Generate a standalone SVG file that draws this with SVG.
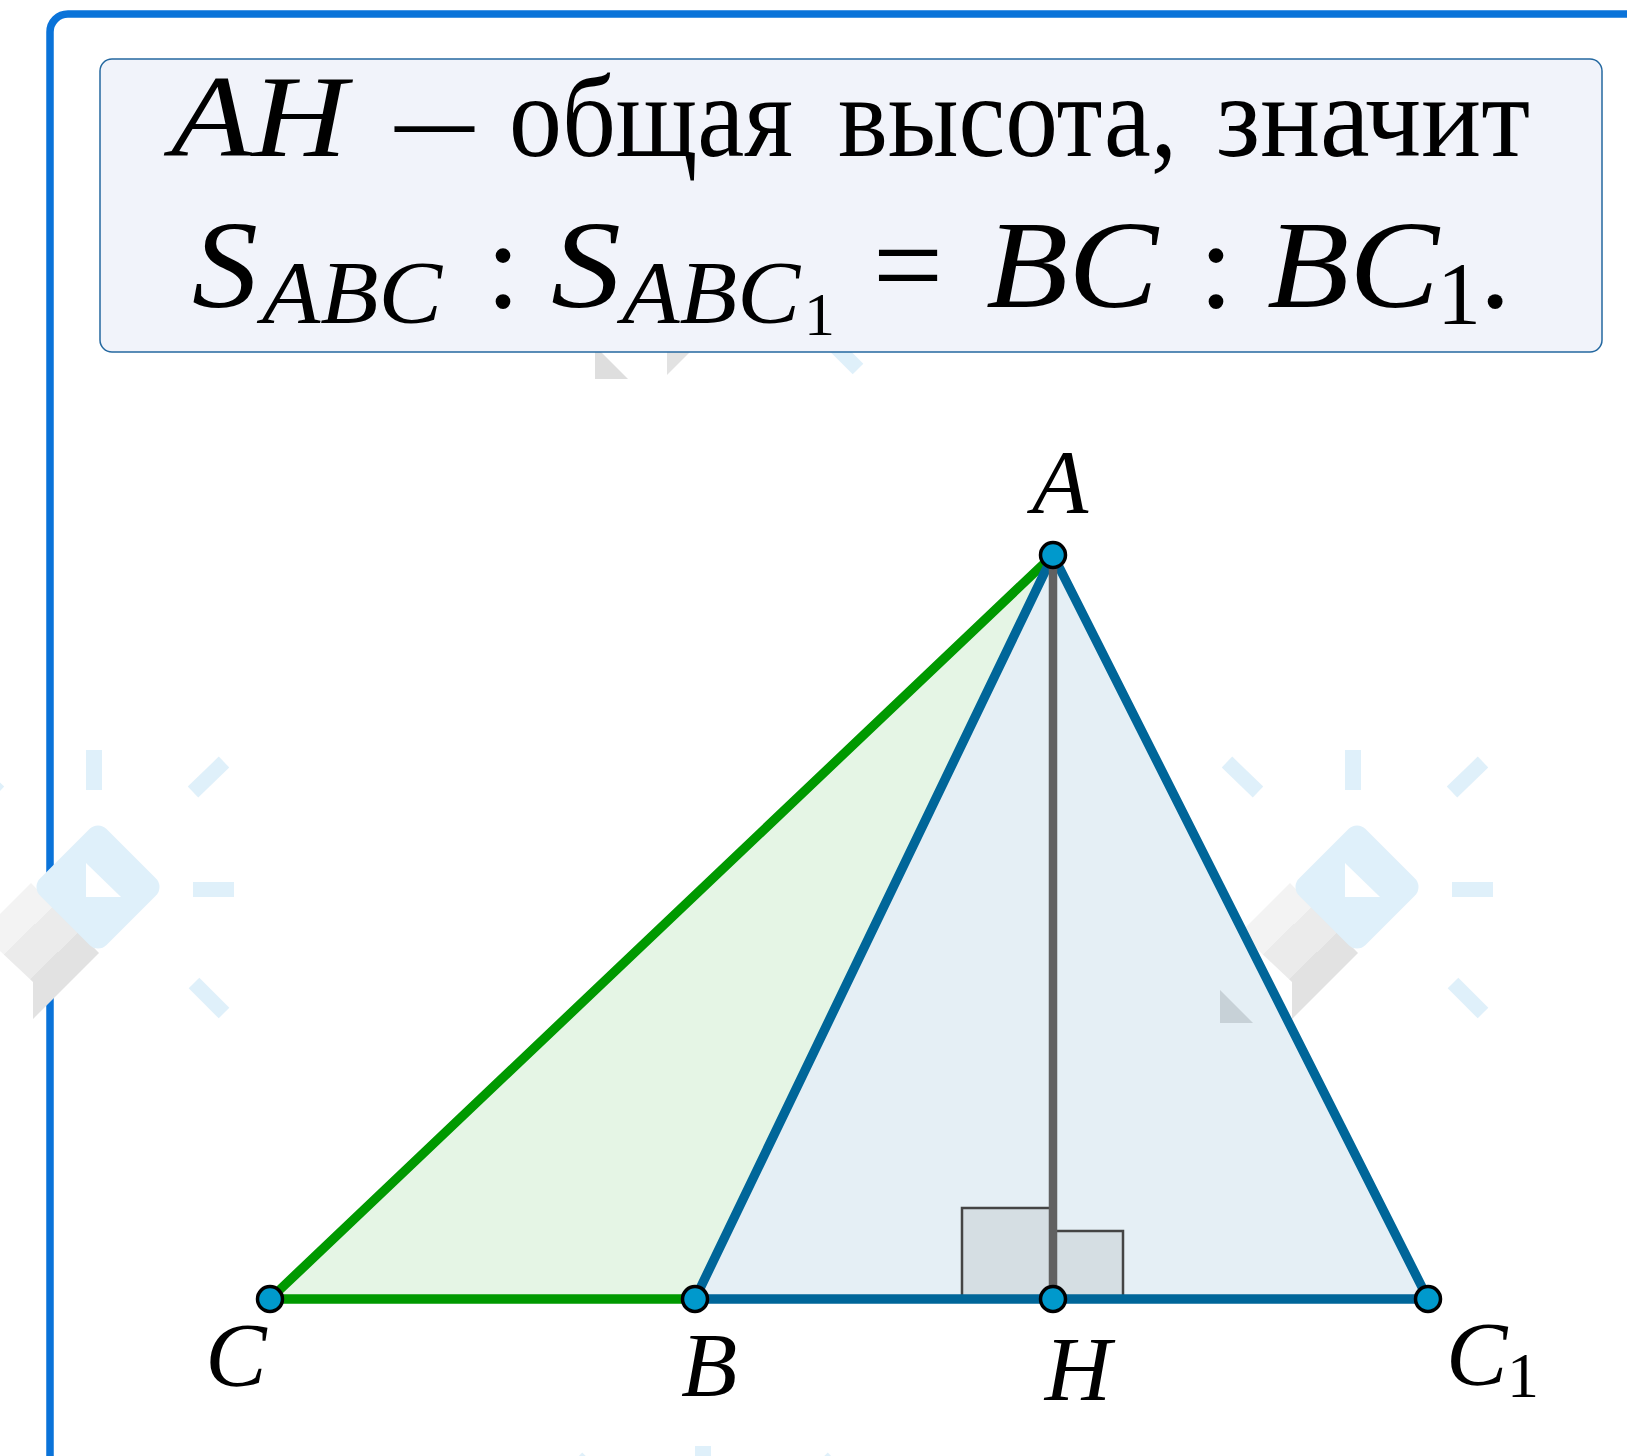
<svg xmlns="http://www.w3.org/2000/svg" width="1627" height="1456" viewBox="0 0 1627 1456">
<defs>
<style>
.it{font-family:"Liberation Serif","Times New Roman",serif;font-style:italic;fill:#000}
.rm{font-family:"Liberation Serif","Times New Roman",serif;fill:#000}
.pt{fill:#0099CC;stroke:#000;stroke-width:3.5}
.ray{stroke:#DFF0FA;stroke-width:15;fill:none}
.lbl{font-size:92px}
.blue{stroke:#006699;stroke-width:9.3;stroke-linecap:round;fill:none}
.green{stroke:#009900;stroke-width:9.3;stroke-linecap:round;fill:none}
.ra{fill:#666666;fill-opacity:0.12;stroke:#444444;stroke-width:2.5}
</style>
<linearGradient id="bandg" gradientUnits="userSpaceOnUse" x1="-63" y1="-6" x2="5" y2="64">
<stop offset="0" stop-color="#F3F3F3"/><stop offset="0.33" stop-color="#F3F3F3"/>
<stop offset="0.33" stop-color="#EBEBEB"/><stop offset="0.7" stop-color="#EBEBEB"/>
<stop offset="0.7" stop-color="#E2E2E2"/><stop offset="1" stop-color="#E2E2E2"/>
</linearGradient>
<g id="wm">
<rect x="-8" y="-139" width="16" height="40" fill="#DFF0FA"/>
<rect x="99" y="-7" width="41" height="15" fill="#DFF0FA"/>
<line class="ray" x1="-126" y1="-127" x2="-95" y2="-97"/>
<line class="ray" x1="130" y1="-127" x2="99" y2="-97"/>
<line class="ray" x1="100" y1="94" x2="130" y2="124"/>
<polygon points="-63,-6 5,64 -61,130 -61,93 -113,44" fill="url(#bandg)"/>
<polygon points="-133,101 -133,134 -100,134" fill="#DEDEDE"/>
<rect x="-47" y="-47" width="94" height="94" rx="12" fill="#DFF0FA" transform="translate(4,-2) rotate(45)"/>
<polygon points="-8,-26 -8,8 27,8" fill="#FFFFFF"/>
</g>
</defs>
<rect width="1627" height="1456" fill="#FFFFFF"/>
<rect id="frame" x="50" y="14" width="1700" height="1600" rx="18" fill="none" stroke="#0A73D9" stroke-width="7.5"/>
<g id="watermark">
<use href="#wm" transform="translate(1353,889)"/>
<use href="#wm" transform="translate(94,889)"/>
<use href="#wm" transform="translate(728,245)"/>
<use href="#wm" transform="translate(703,1585)"/>
</g>
<g id="formula">
<rect x="100" y="59" width="1502" height="293" rx="12" fill="#F1F3FA" stroke="#2468A0" stroke-width="1.5"/>
<text class="it" x="171" y="156" font-size="116" textLength="176" lengthAdjust="spacingAndGlyphs">AH</text>
<text class="rm" x="395" y="156" font-size="116" textLength="79" lengthAdjust="spacingAndGlyphs">—</text>
<text class="rm" x="509" y="156" font-size="116" textLength="284" lengthAdjust="spacingAndGlyphs">общая</text>
<text class="rm" x="838" y="156" font-size="116" textLength="339" lengthAdjust="spacingAndGlyphs">высота,</text>
<text class="rm" x="1216" y="156" font-size="116" textLength="314" lengthAdjust="spacingAndGlyphs">значит</text>
<text class="it" x="192" y="307" font-size="125" textLength="66" lengthAdjust="spacingAndGlyphs">S</text>
<text class="it" x="262" y="322" font-size="88" textLength="180" lengthAdjust="spacingAndGlyphs">ABC</text>
<text class="rm" x="503" y="307" font-size="125" text-anchor="middle">:</text>
<text class="it" x="551" y="307" font-size="125" textLength="70" lengthAdjust="spacingAndGlyphs">S</text>
<text class="it" x="622" y="322" font-size="88" textLength="178" lengthAdjust="spacingAndGlyphs">ABC</text>
<text class="rm" x="804" y="335" font-size="62">1</text>
<text class="rm" x="908" y="307" font-size="125" text-anchor="middle">=</text>
<text class="it" x="986" y="307" font-size="125" textLength="172" lengthAdjust="spacingAndGlyphs">BC</text>
<text class="rm" x="1216" y="307" font-size="125" text-anchor="middle">:</text>
<text class="it" x="1267" y="307" font-size="125" textLength="172" lengthAdjust="spacingAndGlyphs">BC</text>
<text class="rm" x="1437" y="323" font-size="88">1</text>
<text class="rm" x="1495" y="307" font-size="125" text-anchor="middle">.</text>
</g>
<g id="fills">
<polygon id="tri-ABC" points="270,1299 695,1299 1053,555" fill="#009900" fill-opacity="0.1"/>
<polygon id="tri-ABC1" points="695,1299 1428,1299 1053,555" fill="#006699" fill-opacity="0.1"/>
</g>
<g id="right-angles">
<rect class="ra" x="962" y="1208" width="91" height="91"/>
<rect class="ra" x="1053" y="1231" width="70" height="68"/>
</g>
<g id="connectors">
<line class="green" x1="270" y1="1299" x2="1053" y2="555"/>
<line class="green" x1="270" y1="1299" x2="695" y2="1299"/>
<line class="blue" x1="695" y1="1299" x2="1428" y2="1299"/>
<line class="blue" x1="695" y1="1299" x2="1053" y2="555"/>
<line class="blue" x1="1428" y1="1299" x2="1053" y2="555"/>
<line x1="1053" y1="555" x2="1053" y2="1299" stroke="#616161" stroke-width="8.5"/>
</g>
<g id="node-A"><circle class="pt" cx="1053" cy="555" r="12.5"/><text class="it lbl" x="1060" y="513" text-anchor="middle">A</text></g>
<g id="node-C"><circle class="pt" cx="270" cy="1299" r="12.5"/><text class="it lbl" x="236" y="1386" text-anchor="middle">C</text></g>
<g id="node-B"><circle class="pt" cx="695" cy="1299" r="12.5"/><text class="it lbl" x="709" y="1396" text-anchor="middle">B</text></g>
<g id="node-H"><circle class="pt" cx="1053" cy="1299" r="12.5"/><text class="it lbl" x="1078" y="1400" text-anchor="middle">H</text></g>
<g id="node-C1"><circle class="pt" cx="1428" cy="1299" r="12.5"/><text class="it lbl" x="1446" y="1385">C</text><text class="rm" x="1507" y="1397" font-size="64">1</text></g>
</svg>
